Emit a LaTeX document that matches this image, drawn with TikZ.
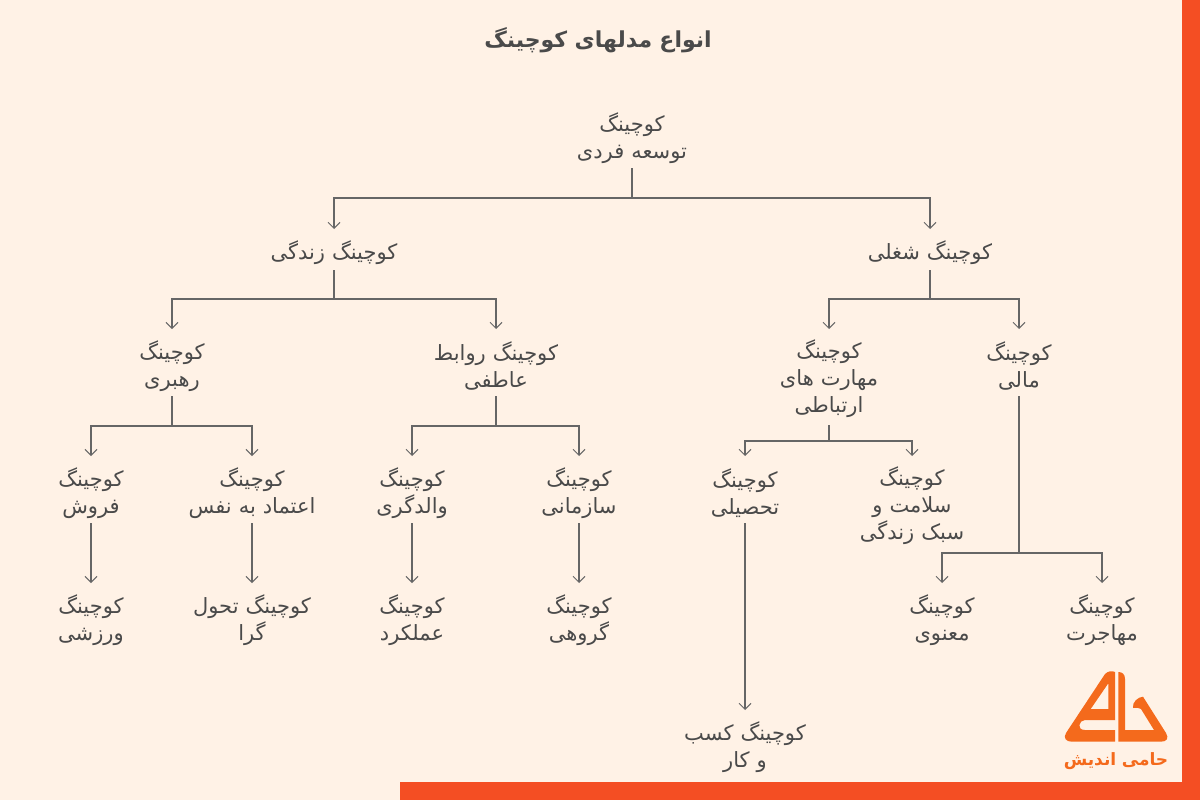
\documentclass[tikz,border=0pt]{standalone}
\usepackage{fontspec}
\usetikzlibrary{arrows.meta}
\TeXXeTstate=1
\newfontfamily\arabicfont[Script=Arabic]{DejaVu Sans}
\newcommand{\rl}[1]{\beginR #1\endR}
\definecolor{bgc}{HTML}{FFF2E6}
\definecolor{barc}{HTML}{F44E23}
\definecolor{logoc}{HTML}{F46A1C}
\definecolor{txt}{HTML}{4A4A4A}
\definecolor{linec}{HTML}{666666}
\tikzset{
  x=1pt,y=-1pt,
  lab/.style={inner sep=0pt,outer sep=0pt,align=center,text=txt,text width=150pt,
     font=\arabicfont\fontsize{21}{27}\selectfont},
  oneline/.style={lab,minimum height=34pt},
  twoline/.style={lab,minimum height=60pt},
  threeline/.style={lab,minimum height=92pt},
  wire/.style={draw=linec,line width=1.1pt},
  arrowwire/.style={wire,-{Straight Barb[length=6pt,width=12pt,line width=1pt]},shorten >=7pt},
  arrowshort/.style={arrowwire,shorten >=4pt},
}
\begin{document}
\begin{tikzpicture}
\useasboundingbox (0,0) rectangle (1200,800);
\fill[bgc] (0,0) rectangle (1200,800);
\fill[barc] (1182,0) rectangle (1200,800);
\fill[barc] (400,782) rectangle (1200,800);

\node[lab,text width=400pt,font=\arabicfont\bfseries\fontsize{22}{28}\selectfont] (title) at (598,40) {\rl{انواع مدلهای کوچینگ}};

\node[twoline] (root) at (632,138) {\rl{کوچینگ}\\\rl{توسعه فردی}};
\node[oneline] (life) at (334,253) {\rl{کوچینگ زندگی}};
\node[oneline] (job) at (930,253) {\rl{کوچینگ شغلی}};
\node[twoline] (lead) at (172,366) {\rl{کوچینگ}\\\rl{رهبری}};
\node[twoline] (rel) at (496,366) {\rl{کوچینگ روابط}\\\rl{عاطفی}};
\node[threeline] (comm) at (829,379) {\rl{کوچینگ}\\\rl{مهارت های}\\\rl{ارتباطی}};
\node[twoline] (fin) at (1019,366) {\rl{کوچینگ}\\\rl{مالی}};
\node[twoline] (sales) at (91,493) {\rl{کوچینگ}\\\rl{فروش}};
\node[twoline] (conf) at (252,493) {\rl{کوچینگ}\\\rl{اعتماد به نفس}};
\node[twoline] (parent) at (412,493) {\rl{کوچینگ}\\\rl{والدگری}};
\node[twoline] (org) at (579,493) {\rl{کوچینگ}\\\rl{سازمانی}};
\node[twoline] (edu) at (745,493) {\rl{کوچینگ}\\\rl{تحصیلی}};
\node[threeline] (health) at (912,506) {\rl{کوچینگ}\\\rl{سلامت و}\\\rl{سبک زندگی}};
\node[twoline] (sport) at (91,620) {\rl{کوچینگ}\\\rl{ورزشی}};
\node[twoline] (trans) at (252,620) {\rl{کوچینگ تحول}\\\rl{گرا}};
\node[twoline] (perf) at (412,620) {\rl{کوچینگ}\\\rl{عملکرد}};
\node[twoline] (team) at (579,620) {\rl{کوچینگ}\\\rl{گروهی}};
\node[twoline] (spirit) at (942,620) {\rl{کوچینگ}\\\rl{معنوی}};
\node[twoline] (immig) at (1102,620) {\rl{کوچینگ}\\\rl{مهاجرت}};
\node[twoline] (biz) at (745,747) {\rl{کوچینگ کسب}\\\rl{و کار}};

% junctions on the buses
\coordinate (jroot) at (632,198);
\coordinate (jlife) at (334,299);
\coordinate (jjob) at (930,299);
\coordinate (jlead) at (172,426);
\coordinate (jrel) at (496,426);
\coordinate (jcomm) at (829,441);
\coordinate (jfin) at (1019,553);

\draw[wire] (root.south) -- (jroot);
\draw[arrowwire] (jroot) -| (life.north);
\draw[arrowwire] (jroot) -| (job.north);
\draw[wire] (life.south) -- (jlife);
\draw[arrowwire] (jlife) -| (lead.north);
\draw[arrowwire] (jlife) -| (rel.north);
\draw[wire] (job.south) -- (jjob);
\draw[arrowshort] (jjob) -| (comm.north);
\draw[arrowwire] (jjob) -| (fin.north);
\draw[wire] (lead.south) -- (jlead);
\draw[arrowwire] (jlead) -| (sales.north);
\draw[arrowwire] (jlead) -| (conf.north);
\draw[wire] (rel.south) -- (jrel);
\draw[arrowwire] (jrel) -| (parent.north);
\draw[arrowwire] (jrel) -| (org.north);
\draw[wire] (comm.south) -- (jcomm);
\draw[arrowwire] (jcomm) -| (edu.north);
\draw[arrowshort] (jcomm) -| (health.north);
\draw[wire] (fin.south) -- (jfin);
\draw[arrowwire] (jfin) -| (spirit.north);
\draw[arrowwire] (jfin) -| (immig.north);
\draw[arrowwire] (sales) -- (sport);
\draw[arrowwire] (conf) -- (trans);
\draw[arrowwire] (parent) -- (perf);
\draw[arrowwire] (org) -- (team);
\draw[arrowwire] (edu) -- (biz);

% logo
\fill[logoc,even odd rule]
  (1071.7,741.7) .. controls (1066,741.7) and (1063,738) .. (1066,733) -- (1105,674)
  .. controls (1108,671) and (1112,670.5) .. (1115,672) -- (1115,720) -- (1085,720)
  .. controls (1079,720) and (1076,730) .. (1085,730) -- (1115,730) -- (1115,741.7) -- cycle
  (1090.7,709) -- (1108.3,683.3) -- (1108.3,709) -- cycle;
\fill[logoc]
  (1118.3,741.7) -- (1118.3,672) .. controls (1122,672) and (1125,674) .. (1125,679)
  -- (1125,730) -- (1154,730) -- (1141,709) .. controls (1139,707) and (1136,708) .. (1133,708)
  .. controls (1132,702) and (1138,697) .. (1143,696.7) -- (1166,733)
  .. controls (1169,738) and (1167,741.7) .. (1161,741.7) -- cycle;
\node[lab,text=logoc,font=\arabicfont\bfseries\fontsize{17}{20}\selectfont] (brand) at (1116,761) {\rl{حامی اندیش}};
\end{tikzpicture}
\end{document}
